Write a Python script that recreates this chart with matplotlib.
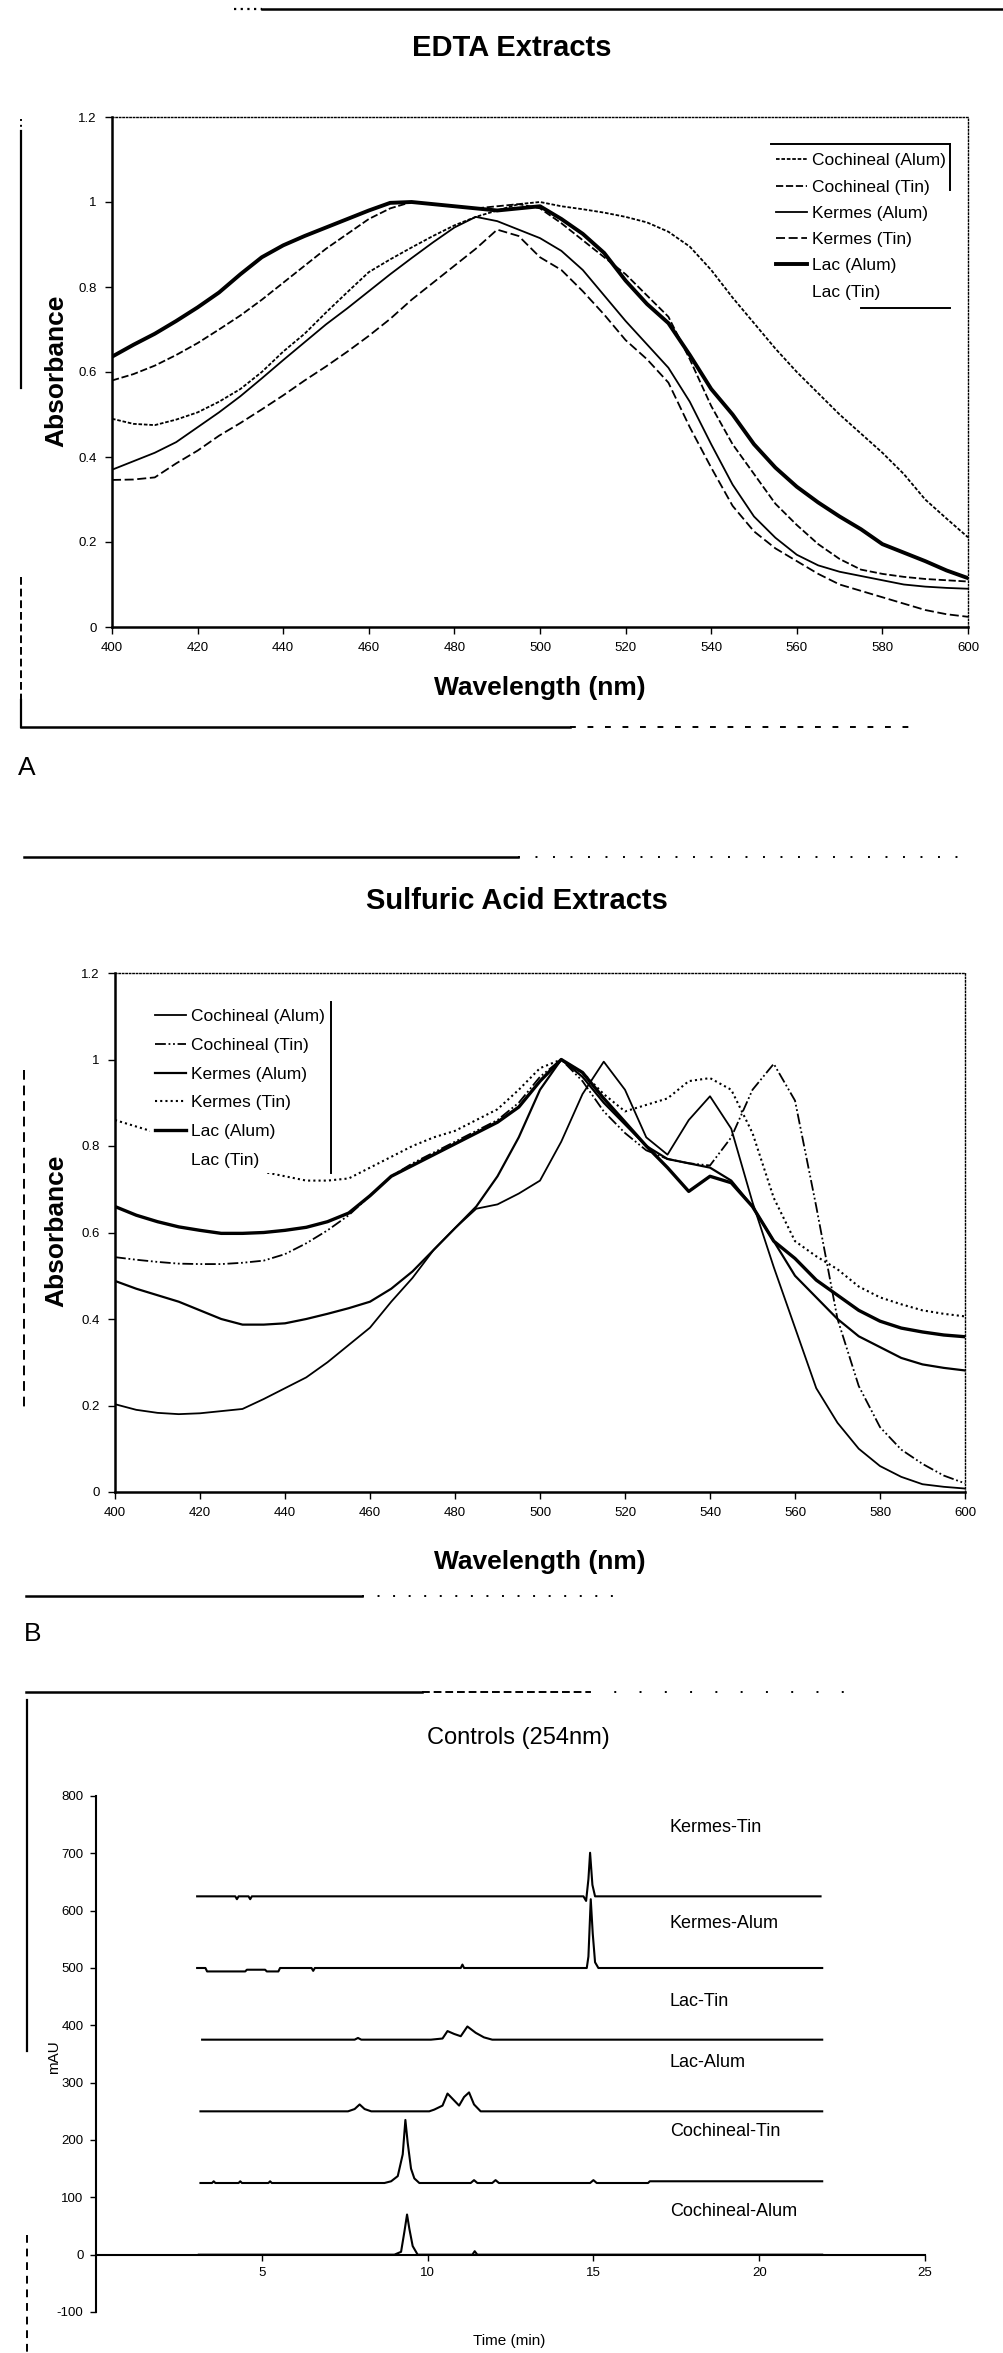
import numpy as np
import matplotlib
matplotlib.use('Agg')
import matplotlib.pyplot as plt
from matplotlib.lines import Line2D

plt.rcParams['font.family'] = ['Liberation Sans', 'DejaVu Sans']

# ---------------- data ----------------
wavelength = np.arange(400, 601, 5)
series_names = ['Cochineal (Alum)', 'Cochineal (Tin)', 'Kermes (Alum)',
                'Kermes (Tin)', 'Lac (Alum)', 'Lac (Tin)']
wl_ticks = [400, 420, 440, 460, 480, 500, 520, 540, 560, 580, 600]
abs_ticks = [0, 0.2, 0.4, 0.6, 0.8, 1.0, 1.2]
abs_tick_labels = ['0', '0.2', '0.4', '0.6', '0.8', '1', '1.2']

# EDTA extracts (panel A)
edta_coch_alum = [0.49, 0.478, 0.475, 0.488, 0.505, 0.53, 0.56, 0.60, 0.648, 0.69, 0.74,
                  0.788, 0.835, 0.865, 0.893, 0.92, 0.945, 0.965, 0.98, 0.995, 1.0,
                  0.99, 0.983, 0.975, 0.965, 0.952, 0.93, 0.895, 0.84, 0.775, 0.715,
                  0.655, 0.60, 0.55, 0.50, 0.455, 0.41, 0.36, 0.30, 0.255, 0.211]
edta_coch_tin = [0.58, 0.595, 0.615, 0.64, 0.668, 0.70, 0.733, 0.77, 0.81, 0.85, 0.89,
                 0.925, 0.96, 0.985, 1.0, 0.995, 0.99, 0.985, 0.99, 0.995, 0.985,
                 0.95, 0.91, 0.87, 0.83, 0.78, 0.73, 0.63, 0.52, 0.43, 0.36,
                 0.29, 0.24, 0.195, 0.16, 0.135, 0.125, 0.118, 0.113, 0.11, 0.107]
edta_kermes_alum = [0.37, 0.39, 0.41, 0.435, 0.47, 0.505, 0.543, 0.585, 0.628, 0.67, 0.712,
                    0.75, 0.79, 0.83, 0.868, 0.905, 0.94, 0.965, 0.955, 0.935, 0.915,
                    0.885, 0.84, 0.78, 0.72, 0.665, 0.61, 0.53, 0.43, 0.335, 0.26,
                    0.21, 0.17, 0.145, 0.13, 0.12, 0.11, 0.10, 0.095, 0.092, 0.09]
edta_kermes_tin = [0.346, 0.347, 0.352, 0.385, 0.415, 0.45, 0.48, 0.512, 0.545, 0.58, 0.613,
                   0.648, 0.685, 0.725, 0.77, 0.81, 0.85, 0.89, 0.935, 0.92, 0.87,
                   0.84, 0.79, 0.735, 0.675, 0.63, 0.575, 0.47, 0.375, 0.285, 0.225,
                   0.185, 0.155, 0.125, 0.10, 0.085, 0.07, 0.055, 0.04, 0.03, 0.024]
edta_lac_alum = [0.636, 0.664, 0.69, 0.72, 0.752, 0.787, 0.83, 0.87, 0.898, 0.92, 0.94,
                 0.96, 0.98, 0.998, 1.0, 0.995, 0.99, 0.985, 0.98, 0.985, 0.99,
                 0.96, 0.925, 0.88, 0.815, 0.76, 0.715, 0.64, 0.56, 0.50, 0.43,
                 0.375, 0.33, 0.293, 0.26, 0.23, 0.195, 0.175, 0.155, 0.133, 0.115]
edta_lac_tin = []   # trace not visible in the source

# Sulfuric acid extracts (panel B)
acid_coch_alum = [0.203, 0.19, 0.183, 0.18, 0.182, 0.187, 0.192, 0.215, 0.24, 0.265, 0.30,
                  0.34, 0.38, 0.44, 0.495, 0.56, 0.61, 0.655, 0.665, 0.69, 0.72,
                  0.81, 0.92, 0.995, 0.93, 0.82, 0.78, 0.86, 0.915, 0.84, 0.67,
                  0.52, 0.38, 0.24, 0.16, 0.10, 0.06, 0.035, 0.018, 0.012, 0.008]
acid_coch_tin = [0.543, 0.537, 0.532, 0.528, 0.527, 0.527, 0.53, 0.535, 0.55, 0.575, 0.605,
                 0.64, 0.685, 0.73, 0.76, 0.785, 0.81, 0.835, 0.86, 0.90, 0.96,
                 1.0, 0.95, 0.88, 0.83, 0.79, 0.77, 0.76, 0.755, 0.82, 0.93,
                 0.99, 0.905, 0.66, 0.40, 0.245, 0.15, 0.098, 0.065, 0.038, 0.02]
acid_kermes_alum = [0.488, 0.47, 0.455, 0.44, 0.42, 0.40, 0.387, 0.387, 0.39, 0.40, 0.412,
                    0.425, 0.44, 0.47, 0.51, 0.56, 0.61, 0.66, 0.73, 0.82, 0.93,
                    1.0, 0.96, 0.90, 0.85, 0.80, 0.77, 0.76, 0.75, 0.72, 0.66,
                    0.58, 0.50, 0.45, 0.40, 0.36, 0.335, 0.31, 0.295, 0.287, 0.281]
acid_kermes_tin = [0.86, 0.845, 0.83, 0.81, 0.79, 0.77, 0.75, 0.74, 0.73, 0.72, 0.72,
                   0.725, 0.75, 0.775, 0.80, 0.82, 0.835, 0.86, 0.885, 0.93, 0.98,
                   1.0, 0.97, 0.92, 0.88, 0.895, 0.91, 0.95, 0.957, 0.93, 0.83,
                   0.68, 0.58, 0.545, 0.515, 0.475, 0.45, 0.434, 0.42, 0.412, 0.406]
acid_lac_alum = [0.66, 0.64, 0.625, 0.613, 0.605, 0.598, 0.598, 0.60, 0.605, 0.612, 0.625,
                 0.645, 0.685, 0.73, 0.755, 0.78, 0.805, 0.83, 0.855, 0.89, 0.95,
                 1.0, 0.97, 0.91, 0.855, 0.80, 0.75, 0.695, 0.73, 0.715, 0.66,
                 0.58, 0.54, 0.49, 0.455, 0.42, 0.395, 0.379, 0.37, 0.363, 0.359]
acid_lac_tin = []   # trace not visible in the source

# HPLC controls (panel C): retention time (min) and signal (mAU) above each baseline
hplc_names = ['Cochineal-Alum', 'Cochineal-Tin', 'Lac-Alum', 'Lac-Tin', 'Kermes-Alum', 'Kermes-Tin']
hplc_offsets = [0, 125, 250, 375, 500, 625]
hplc_label_y = [76, 214, 336, 442, 578, 745]
hplc_label_t = 17.3
coch_alum_t = [3.1, 9.0, 9.2, 9.3, 9.38, 9.45, 9.55, 9.7, 11.35, 11.42, 11.5, 21.9]
coch_alum_v = [0, 0, 5, 40, 70, 45, 15, 0, 0, 6, 0, 0]
coch_tin_t = [3.15, 3.5, 3.55, 3.6, 4.3, 4.35, 4.4, 5.2, 5.25, 5.3, 8.7, 8.9, 9.1, 9.25, 9.33,
              9.4, 9.5, 9.6, 9.75, 11.3, 11.4, 11.5, 11.95, 12.05, 12.15, 14.9, 15.0, 15.1,
              16.65, 16.7, 21.9]
coch_tin_v = [0, 0, 3, 0, 0, 3, 0, 0, 3, 0, 0, 3, 12, 50, 110,
              70, 25, 8, 0, 0, 5, 0, 0, 5, 0, 0, 5, 0,
              0, 3, 3]
lac_alum_t = [3.15, 7.6, 7.8, 7.95, 8.1, 8.3, 10.05, 10.2, 10.45, 10.6, 10.75, 10.95, 11.1,
              11.25, 11.4, 11.6, 21.9]
lac_alum_v = [0, 0, 4, 12, 4, 0, 0, 3, 10, 31, 22, 10, 25, 33, 12, 0, 0]
lac_tin_t = [3.2, 7.8, 7.9, 8.0, 10.1, 10.45, 10.6, 10.8, 11.0, 11.2, 11.45, 11.7, 11.95, 21.9]
lac_tin_v = [0, 0, 3, 0, 0, 2, 15, 10, 6, 23, 12, 4, 0, 0]
kermes_alum_t = [3.05, 3.3, 3.35, 4.5, 4.55, 5.1, 5.15, 5.5, 5.55, 6.5, 6.55, 6.6, 11.0,
                 11.05, 11.1, 14.8, 14.85, 14.92, 14.98, 15.05, 15.15, 21.9]
kermes_alum_v = [0, 0, -6, -6, -3, -3, -6, -6, 0, 0, -5, 0, 0, 6, 0, 0, 20, 120, 60, 10, 0, 0]
kermes_tin_t = [3.05, 4.2, 4.25, 4.3, 4.6, 4.65, 4.7, 14.7, 14.78, 14.85, 14.9, 14.97, 15.05, 21.85]
kermes_tin_v = [0, 0, -5, 0, 0, -5, 0, 0, -8, 30, 76, 20, 0, 0]
time_ticks = [5, 10, 15, 20, 25]
mau_ticks = [-100, 0, 100, 200, 300, 400, 500, 600, 700, 800]

# ---------------- figure ----------------
W, H = 1004, 2353
fig = plt.figure(figsize=(W / 100, H / 100), dpi=100)


def fx(x):
    return x / W


def fy(y):
    return 1 - y / H


def box(l, t, r, b):
    return [fx(l), fy(b), (r - l) / W, (b - t) / H]


def fline(xs, ys, lw=1.6, ls='-'):
    fig.add_artist(Line2D([fx(v) for v in xs], [fy(v) for v in ys], color='black',
                          lw=lw, ls=ls, transform=fig.transFigure))


def style_spectrum_axes(ax):
    ax.set_xlim(400, 600)
    ax.set_ylim(0, 1.2)
    ax.set_xticks(wl_ticks)
    ax.set_xticklabels([str(t) for t in wl_ticks])
    ax.set_yticks(abs_ticks)
    ax.set_yticklabels(abs_tick_labels)
    ax.tick_params(direction='out', length=5, width=1, labelsize=9.5, pad=6)
    for s in ['left', 'bottom']:
        ax.spines[s].set_linewidth(1.8)
    for s in ['top', 'right']:
        ax.spines[s].set_linestyle((0, (1, 1.5)))
        ax.spines[s].set_linewidth(1.0)


# Panel A ------------------------------------------------
axA = fig.add_axes(box(112, 117, 968, 627))
A_vals = [edta_coch_alum, edta_coch_tin, edta_kermes_alum, edta_kermes_tin, edta_lac_alum, edta_lac_tin]
A_styles = [dict(ls=(0, (2, 1)), lw=1.3, color='black'),
            dict(ls=(0, (4, 1.5)), lw=1.3, color='black'),
            dict(ls='-', lw=1.3, color='black'),
            dict(ls=(0, (5, 2)), lw=1.3, color='black'),
            dict(ls='-', lw=2.8, color='black'),
            dict(ls='-', lw=1.3, color='white')]
for name, vals, st in zip(series_names, A_vals, A_styles):
    if len(vals):
        axA.plot(wavelength, vals, label=name, **st)
    else:
        axA.plot([], [], label=name, **st)
style_spectrum_axes(axA)
axA.legend(loc='upper left', bbox_to_anchor=(fx(771), fy(148)), bbox_transform=fig.transFigure,
           frameon=True, facecolor='white', edgecolor='none', framealpha=1, fancybox=False,
           fontsize=12.5, labelspacing=0.64, handlelength=1.75, handletextpad=0.3,
           borderpad=0.3, borderaxespad=0)
fline([771, 950], [144, 144], lw=1.4)
fline([950, 950], [144, 190], lw=1.4)
fline([861, 950], [308, 308], lw=1.4)

fig.text(fx(512), fy(48), 'EDTA Extracts', ha='center', va='center', fontsize=21, fontweight='bold')
fig.text(fx(56), fy(371), 'Absorbance', ha='center', va='center', rotation=90, fontsize=19, fontweight='bold')
fig.text(fx(540), fy(688), 'Wavelength (nm)', ha='center', va='center', fontsize=19, fontweight='bold')
fig.text(fx(27), fy(768), 'A', ha='center', va='center', fontsize=19)

# frame remnants panel A
fline([234, 262], [9, 9], lw=1.6, ls=(0, (1, 2)))
fline([262, 1004], [9, 9], lw=1.8)
fline([21, 21], [119, 131], lw=1.4, ls=(0, (1, 2)))
fline([21, 21], [131, 388], lw=1.6)
fline([21, 21], [577, 700], lw=1.4, ls=(0, (4, 2)))
fline([21, 21], [700, 727], lw=1.6)
fline([21, 570], [727, 727], lw=1.8)
fline([570, 915], [727, 727], lw=1.4, ls=(0, (3, 6)))

# Panel B ------------------------------------------------
axB = fig.add_axes(box(115, 973, 965, 1492))
B_vals = [acid_coch_alum, acid_coch_tin, acid_kermes_alum, acid_kermes_tin, acid_lac_alum, acid_lac_tin]
B_styles = [dict(ls='-', lw=1.3, color='black'),
            dict(ls=(0, (6, 1.5, 1, 1.5, 1, 1.5)), lw=1.3, color='black'),
            dict(ls='-', lw=1.6, color='black'),
            dict(ls=(0, (1, 1.5)), lw=1.5, color='black'),
            dict(ls='-', lw=2.4, color='black'),
            dict(ls='-', lw=1.3, color='white')]
for name, vals, st in zip(series_names, B_vals, B_styles):
    if len(vals):
        axB.plot(wavelength, vals, label=name, **st)
    else:
        axB.plot([], [], label=name, **st)
style_spectrum_axes(axB)
axB.legend(loc='upper left', bbox_to_anchor=(fx(150), fy(1004)), bbox_transform=fig.transFigure,
           frameon=True, facecolor='white', edgecolor='none', framealpha=1, fancybox=False,
           fontsize=12.5, labelspacing=0.78, handlelength=1.75, handletextpad=0.3,
           borderpad=0.3, borderaxespad=0)
fline([331, 331], [1002, 1173], lw=1.4)

fig.text(fx(517), fy(901), 'Sulfuric Acid Extracts', ha='center', va='center', fontsize=21, fontweight='bold')
fig.text(fx(56), fy(1231), 'Absorbance', ha='center', va='center', rotation=90, fontsize=19, fontweight='bold')
fig.text(fx(540), fy(1562), 'Wavelength (nm)', ha='center', va='center', fontsize=19, fontweight='bold')
fig.text(fx(33), fy(1634), 'B', ha='center', va='center', fontsize=19)

# frame remnants panel B
fline([24, 518], [857, 857], lw=1.8)
fline([518, 970], [857, 857], lw=1.4, ls=(0, (1, 8)))
fline([24, 24], [1070, 1407], lw=1.4, ls=(0, (5, 3)))
fline([26, 362], [1596, 1596], lw=1.8)
fline([362, 624], [1596, 1596], lw=1.4, ls=(0, (1, 7)))

# Panel C ------------------------------------------------
axC = fig.add_axes(box(96, 1796, 925, 2312))
C_t = [coch_alum_t, coch_tin_t, lac_alum_t, lac_tin_t, kermes_alum_t, kermes_tin_t]
C_v = [coch_alum_v, coch_tin_v, lac_alum_v, lac_tin_v, kermes_alum_v, kermes_tin_v]
for name, t, v, off, ly in zip(hplc_names, C_t, C_v, hplc_offsets, hplc_label_y):
    axC.plot(t, np.array(v) + off, color='black', lw=1.5)
    axC.text(hplc_label_t, ly, name, ha='left', va='center', fontsize=13)
axC.set_xlim(0, 25)
axC.set_ylim(-100, 800)
axC.spines['top'].set_visible(False)
axC.spines['right'].set_visible(False)
axC.spines['bottom'].set_position(('data', 0))
axC.spines['bottom'].set_linewidth(1.5)
axC.spines['left'].set_linewidth(1.5)
axC.set_xticks(time_ticks)
axC.set_xticklabels([str(t) for t in time_ticks])
axC.set_yticks(mau_ticks)
axC.set_yticklabels([str(t) for t in mau_ticks])
axC.tick_params(direction='out', length=4, width=1, labelsize=9.5, pad=5)

fig.text(fx(518), fy(1738), 'Controls (254nm)', ha='center', va='center', fontsize=17)
fig.text(fx(509), fy(2341), 'Time (min)', ha='center', va='center', fontsize=11)
fig.text(fx(54), fy(2057), 'mAU', ha='center', va='center', rotation=90, fontsize=11)

# frame remnants panel C
fline([26, 422], [1692, 1692], lw=1.8)
fline([422, 589], [1692, 1692], lw=1.4, ls=(0, (4, 2)))
fline([589, 855], [1692, 1692], lw=1.4, ls=(0, (1, 12)))
fline([27.5, 27.5], [1700, 2051], lw=1.6)
fline([27.5, 27.5], [2235, 2353], lw=1.4, ls=(0, (4, 3)))

fig.savefig('out.png', dpi=100)
